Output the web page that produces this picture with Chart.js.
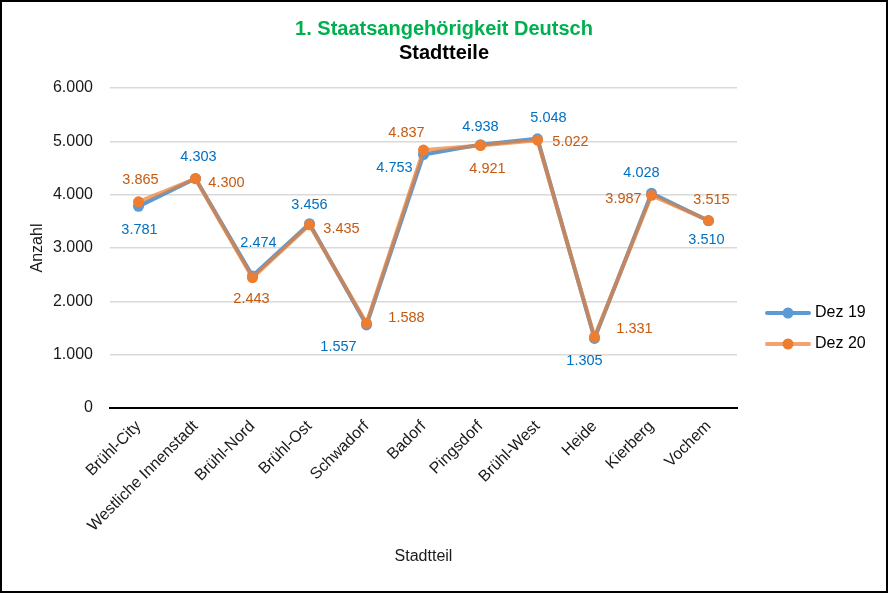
<!DOCTYPE html>
<html lang="de">
<head>
<meta charset="UTF-8">
<title>Staatsangehörigkeit Deutsch - Stadtteile</title>
<style>
    body { margin: 0; padding: 0; background: #ffffff; }
    canvas { display: block; }
</style>
</head>
<body>
<canvas id="chart" width="888" height="593"></canvas>
<script src="https://cdn.jsdelivr.net/npm/chart.js"></script>
<script>
// Data
const categories = ["Brühl-City", "Westliche Innenstadt", "Brühl-Nord", "Brühl-Ost", "Schwadorf",
    "Badorf", "Pingsdorf", "Brühl-West", "Heide", "Kierberg", "Vochem"];
const dez19 = [3781, 4303, 2474, 3456, 1557, 4753, 4938, 5048, 1305, 4028, 3510];
const dez20 = [3865, 4300, 2443, 3435, 1588, 4837, 4921, 5022, 1331, 3987, 3515];
const seriesNames = ["Dez 19", "Dez 20"];

// label placement relative to each point (px)
const offsets19 = [[1, 24], [3, -22], [6, -33], [0, -19], [-28, 22], [-29, 13], [0, -18], [11, -21], [-10, 23], [-10, -20], [-2, 19]];
const offsets20 = [[2, -22], [31, 4], [-1, 21], [32, 4], [40, -5], [-17, -17], [7, 23], [33, 2], [40, -8], [-28, 4], [3, -21]];

const FONT = "'Liberation Sans', Arial, sans-serif";
const TEXT = "#1a1a1a";
Chart.defaults.font.family = FONT;

function fmt(v) {
    return String(v).replace(/\B(?=(\d{3})+(?!\d))/g, ".");
}

// value labels next to the points
const valueLabels = {
    id: "valueLabels",
    afterDatasetsDraw(chart) {
        const ctx = chart.ctx;
        ctx.save();
        ctx.font = "14.5px " + FONT;
        ctx.textAlign = "center";
        ctx.textBaseline = "middle";
        chart.data.datasets.forEach((ds, di) => {
            const meta = chart.getDatasetMeta(di);
            meta.data.forEach((pt, i) => {
                const off = ds.labelOffsets[i];
                ctx.fillStyle = ds.labelColor;
                ctx.fillText(fmt(ds.data[i]), pt.x + off[0], pt.y + off[1]);
            });
        });
        ctx.restore();
    }
};

// legend on the right with line + marker, and frame round the picture
const sideLegend = {
    id: "sideLegend",
    afterDraw(chart) {
        const ctx = chart.ctx;
        ctx.save();
        chart.data.datasets.forEach((ds, i) => {
            const y = 313 + i * 31;
            ctx.strokeStyle = ds.borderColor;
            ctx.lineWidth = 4;
            ctx.lineCap = "round";
            ctx.beginPath();
            ctx.moveTo(767, y);
            ctx.lineTo(809, y);
            ctx.stroke();
            ctx.fillStyle = ds.pointBackgroundColor;
            ctx.beginPath();
            ctx.arc(788, y, 5.5, 0, Math.PI * 2);
            ctx.fill();
            ctx.fillStyle = "#000000";
            ctx.font = "16px " + FONT;
            ctx.textAlign = "left";
            ctx.textBaseline = "middle";
            ctx.fillText(ds.label, 815, y);
        });
        ctx.strokeStyle = "#000000";
        ctx.lineWidth = 2;
        ctx.strokeRect(1, 1, chart.width - 2, chart.height - 2);
        ctx.restore();
    }
};

const ctx = document.getElementById("chart").getContext("2d");

new Chart(ctx, {
    type: "line",
    data: {
        labels: categories,
        datasets: [{
            label: seriesNames[0],
            data: dez19,
            borderColor: "#5B9BD5",
            backgroundColor: "#5B9BD5",
            pointBackgroundColor: "#5B9BD5",
            pointBorderWidth: 0,
            borderWidth: 4,
            pointRadius: 5.5,
            tension: 0,
            order: 1,
            labelColor: "#0070C0",
            labelOffsets: offsets19
        }, {
            label: seriesNames[1],
            data: dez20,
            borderColor: "rgba(237, 125, 49, 0.7)",
            backgroundColor: "#ED7D31",
            pointBackgroundColor: "#ED7D31",
            pointBorderWidth: 0,
            borderWidth: 4,
            pointRadius: 5.5,
            tension: 0,
            order: 0,
            labelColor: "#C55A11",
            labelOffsets: offsets20
        }]
    },
    options: {
        responsive: false,
        animation: false,
        layout: {
            padding: 0
        },
        plugins: {
            legend: { display: false },
            tooltip: { enabled: false },
            title: {
                display: true,
                text: "1. Staatsangehörigkeit Deutsch",
                color: "#00B050",
                font: { size: 20, weight: "bold" },
                padding: { top: 17, bottom: 0 }
            },
            subtitle: {
                display: true,
                text: "Stadtteile",
                color: "#000000",
                font: { size: 20, weight: "bold" },
                padding: { top: 0, bottom: 23 }
            }
        },
        scales: {
            x: {
                offset: true,
                grid: { display: false, drawTicks: false, offset: true },
                border: { display: true, color: "#000000", width: 2 },
                ticks: {
                    color: TEXT,
                    font: { size: 16 },
                    minRotation: 45,
                    maxRotation: 45,
                    autoSkip: false,
                    padding: 9
                },
                title: {
                    display: true,
                    text: "Stadtteil",
                    color: TEXT,
                    font: { size: 16 },
                    padding: { top: 0, bottom: 27 }
                },
                afterFit(scale) { scale.height = 185; }
            },
            y: {
                min: 0,
                max: 6000,
                grid: {
                    color: (c) => c.tick.value === 0 ? "#000000" : "#D9D9D9",
                    lineWidth: 1.5,
                    drawTicks: false
                },
                border: { display: false },
                ticks: {
                    stepSize: 1000,
                    color: TEXT,
                    font: { size: 16 },
                    padding: 17,
                    callback: (v) => fmt(v)
                },
                title: {
                    display: true,
                    text: "Anzahl",
                    color: TEXT,
                    font: { size: 16 },
                    padding: { top: 28, bottom: 0 }
                },
                afterFit(scale) { scale.width = 110; }
            },
            // empty right-hand axis that keeps room for the legend
            legendSpace: {
                position: "right",
                display: true,
                grid: { display: false, drawTicks: false },
                border: { display: false },
                ticks: { display: false },
                afterFit(scale) { scale.width = 151; }
            }
        }
    },
    plugins: [valueLabels, sideLegend]
});
</script>
</body>
</html>
